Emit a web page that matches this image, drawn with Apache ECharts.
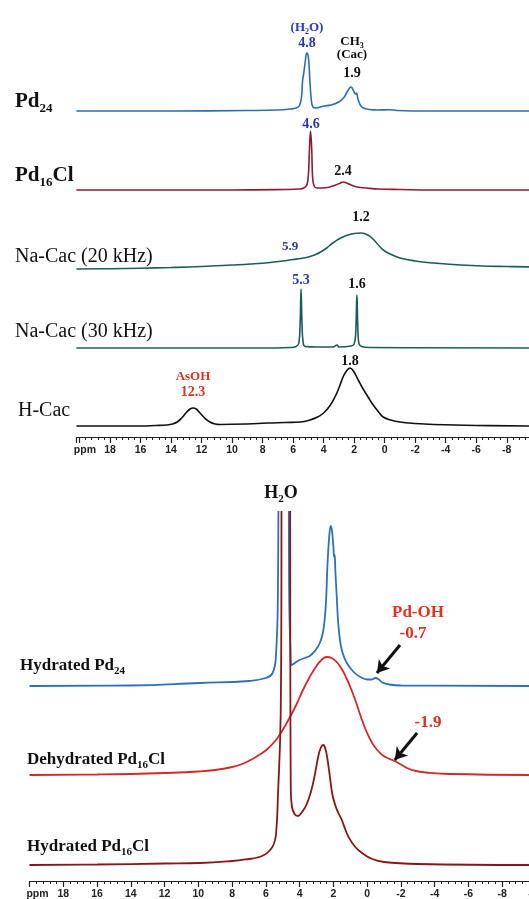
<!DOCTYPE html>
<html>
<head>
<meta charset="utf-8">
<script src="https://cdn.jsdelivr.net/npm/echarts@6/dist/echarts.min.js"></script>
<style>html,body{margin:0;padding:0;background:#fff}#main{width:529px;height:899px}</style>
</head>
<body>
<div id="main"></div>
<script>
// spectra: [ppm, height above own baseline]
// top panel
const pd24 = [[20.2,0],[14,0],[9,0.5],[7,1],[6.2,2],[5.8,3],[5.6,5],[5.45,14],[5.38,30],[5.3,38],[5.2,50],[5.1,58],[5.0,54],[4.9,30],[4.8,10],[4.7,4],[4.5,3],[4.0,5],[3.5,6],[3.0,9],[2.7,13],[2.5,18],[2.3,23],[2.2,24],[2.1,22],[2.0,19],[1.9,17],[1.85,18],[1.75,12],[1.6,6],[1.4,3],[1.0,1.5],[0.5,1],[-0.3,1.3],[-0.8,0.5],[-3,0],[-10,0]];
const pd16 = [[20.2,0],[10,0],[6.5,0.5],[5.6,1],[5.3,2],[5.1,5],[5.0,15],[4.93,40],[4.86,59],[4.78,40],[4.72,12],[4.62,4],[4.45,2],[4.1,2],[3.6,3],[3.2,5],[2.9,7],[2.73,8],[2.5,7],[2.2,5],[1.8,3],[1.2,2],[0.4,1],[-1,0.5],[-3,0],[-10,0]];
const naCac20 = [[20.2,0],[18,0.3],[16,0.8],[14,1.5],[12,2.5],[10,4],[8.8,5],[7.5,6.5],[6.7,8],[6.0,9.5],[5.5,10.5],[5.0,12],[4.6,14],[4.2,17],[3.8,21],[3.4,26],[3.0,30],[2.5,33.5],[2.0,35.5],[1.55,36],[1.1,34],[0.7,29],[0.3,22],[0,18],[-0.5,14],[-1,11],[-2,8],[-3.2,6],[-5,4],[-6.4,3],[-8,2.5],[-10,2]];
const naCac30 = [[20.2,0],[8,0],[6.2,0.5],[5.8,1.5],[5.62,5],[5.54,25],[5.48,59],[5.42,25],[5.34,5],[5.2,1.5],[4.5,1],[3.4,1],[3.1,3],[3.0,1],[2.2,2],[2.0,4],[1.9,15],[1.82,53],[1.75,15],[1.68,4],[1.5,1.5],[1,0.5],[-10,0]];
const hCac = [[20.2,0],[16,0],[15,0.5],[14.3,1],[13.9,2],[13.6,4],[13.3,8],[13.0,13.5],[12.75,17],[12.56,18],[12.35,17],[12.1,13],[11.8,8],[11.45,4],[11.1,2],[10.8,1.5],[9,2],[7.7,3],[6.5,3.5],[5.5,4],[5,5.5],[4.4,9],[4.0,13],[3.6,20],[3.26,29],[3.0,38],[2.7,50],[2.45,56],[2.27,58],[2.05,55],[1.8,48],[1.45,38],[1.09,29],[0.8,22],[0.4,14],[0.1,9],[-0.4,6],[-1,4],[-2,2.5],[-3.2,1.5],[-6,0.5],[-10,0]];
// bottom panel (water peaks run off scale)
const hydPd24 = [[20,0],[14,0.5],[9.9,3],[7,5],[6,8],[5.6,13],[5.4,30],[5.28,100],[5.2,400],[4.68,400],[4.62,100],[4.55,40],[4.45,21],[4.2,24],[4.0,26],[3.7,28],[3.4,30],[3.1,35],[2.8,43],[2.6,55],[2.45,80],[2.35,120],[2.25,148],[2.15,160],[2.08,155],[2.0,140],[1.95,129],[1.92,131],[1.88,115],[1.8,90],[1.72,65],[1.6,45],[1.45,33],[1.2,23],[0.8,14],[0.4,9],[0,6.5],[-0.25,6.5],[-0.5,8],[-0.7,6.5],[-0.9,3.5],[-1.3,1.5],[-2,0.5],[-10,0]];
const dehydPd16 = [[20,0],[16,0.5],[14,1],[12,2],[10,3.5],[9,5],[8,8],[7.4,11],[6.9,15],[6.4,20],[5.9,26],[5.4,35],[5,45],[4.6,57],[4.2,70],[3.8,85],[3.4,98],[3.0,109],[2.7,115],[2.4,118],[2.1,117],[1.8,113],[1.5,106],[1.2,96],[0.9,84],[0.6,70],[0.3,55],[0,42],[-0.3,32],[-0.6,25],[-0.9,20],[-1.2,17],[-1.5,15],[-1.8,12.5],[-2.1,9.5],[-2.5,6],[-2.9,4],[-3.5,2.5],[-4.9,1],[-10,0]];
const hydPd16 = [[20,0],[16,0.5],[12,1.5],[9.9,2],[8,4],[7,6],[6.5,7.5],[6.1,10],[5.8,14],[5.55,20],[5.4,30],[5.28,70],[5.12,150],[5.02,400],[4.6,400],[4.52,75],[4.45,58],[4.3,51],[4.1,49],[3.9,52],[3.6,60],[3.3,75],[3.1,90],[2.9,108],[2.75,117],[2.6,120],[2.47,116],[2.35,106],[2.2,88],[2.05,70],[1.85,58],[1.7,52],[1.5,45],[1.3,36],[1.1,28],[0.7,18],[0.3,12],[-0.3,6],[-1,3],[-3,1],[-10,0]];
// arrows [ppm, panel height]
const pdOhArrow = [[-1.95,236],[-0.58,208]];
const pd16OhArrow = [[-2.96,148],[-1.64,121]];

const SERIF = '"Liberation Serif","Times New Roman",serif';
const SANS = '"Liberation Sans",Arial,sans-serif';

const chart = echarts.init(document.getElementById('main'), null, { renderer: 'canvas' });

function ppmAxis(gridIndex, max, ppmPad) {
    return {
        type: 'value', gridIndex: gridIndex, inverse: true, min: -10, max: max, interval: 2,
        axisLine: { show: true, onZero: false, lineStyle: { color: '#222', width: 1.2 } },
        axisTick: { show: true, inside: false, length: 6, lineStyle: { color: '#222', width: 1.2 } },
        minorTick: { show: true, splitNumber: 5, length: 3, lineStyle: { color: '#222', width: 1 } },
        splitLine: { show: false },
        axisLabel: {
            margin: 8, color: '#222', fontSize: 10.5, fontWeight: 'bold', fontFamily: SANS,
            formatter: function (v) {
                if (v === 20) return '{p|ppm}';
                return v % 2 === 0 ? String(v) : '';
            },
            rich: { p: { padding: [0, 0, 0, ppmPad], color: '#222', fontSize: 10.5, fontWeight: 'bold', fontFamily: SANS } }
        }
    };
}

function trace(pts, offset, color, width, idx) {
    return {
        type: 'line', xAxisIndex: idx, yAxisIndex: idx,
        data: pts.map(p => [p[0], p[1] + offset]),
        showSymbol: false, symbol: 'none', smooth: 0.45,
        lineStyle: { color: color, width: width }, itemStyle: { color: color },
        silent: true, animation: false
    };
}

function arrow(a) {
    return {
        silent: true, animation: false, symbol: ['none', 'arrow'], symbolSize: [11, 12],
        lineStyle: { color: '#111', width: 3, type: 'solid' }, label: { show: false },
        data: [[{ coord: a[0] }, { coord: a[1] }]]
    };
}

function txt(x, y, text, size, color, align, weight) {
    return {
        type: 'text', x: x, y: y, silent: true,
        style: { text: text, fill: color, font: (weight || 'bold') + ' ' + size + 'px ' + SERIF, align: align || 'center', verticalAlign: 'middle' }
    };
}

// text with a subscript part, written as '{m|..}{s|..}'
function subTxt(x, y, text, size, color, bold, align) {
    const w = bold ? 'bold' : 'normal';
    return {
        type: 'text', x: x, y: y, silent: true,
        style: {
            text: text, fill: color, font: w + ' ' + size + 'px ' + SERIF,
            align: align || 'left', verticalAlign: 'middle',
            rich: {
                m: { fontFamily: SERIF, fontWeight: w, fontSize: size, lineHeight: Math.round(size * 1.25), fill: color, color: color },
                s: { fontFamily: SERIF, fontWeight: w, fontSize: Math.round(size * 0.62), lineHeight: Math.round(size * 0.62), verticalAlign: 'bottom', fill: color, color: color }
            }
        }
    };
}

const BLUE = '#2c6db4', MAROON = '#8e1b33', TEAL = '#1c5d57', RED = '#d62828', DKRED = '#8a1717';
const LBLUE = '#2b35b5', LRED = '#e0321e';

const pdOhSeries = trace(hydPd24, 195, '#2d72b8', 1.8, 1);
pdOhSeries.markLine = arrow(pdOhArrow);
const dehydSeries = trace(dehydPd16, 106, RED, 1.8, 1);
dehydSeries.markLine = arrow(pd16OhArrow);

const option = {
    backgroundColor: '#fff',
    animation: false,
    grid: [
        { left: 76.4, top: 0, width: 460.9, height: 437, containLabel: false, outerBoundsMode: 'none' },
        { left: 29.5, top: 512, width: 506.4, height: 369, containLabel: false, outerBoundsMode: 'none' }
    ],
    xAxis: [ppmAxis(0, 20.2, 11), ppmAxis(1, 20, 16)],
    yAxis: [
        { type: 'value', gridIndex: 0, min: 0, max: 437, show: false },
        { type: 'value', gridIndex: 1, min: 0, max: 369, show: false }
    ],
    series: [
        trace(pd24, 326, BLUE, 1.6, 0),
        trace(pd16, 247, MAROON, 1.6, 0),
        trace(naCac20, 168, TEAL, 1.6, 0),
        trace(naCac30, 89, TEAL, 1.6, 0),
        trace(hCac, 11, '#111', 1.6, 0),
        pdOhSeries,
        dehydSeries,
        trace(hydPd16, 16, DKRED, 1.8, 1)
    ],
    graphic: [
        // top panel row labels
        subTxt(15, 102, '{m|Pd}{s|24}', 21, '#111', true),
        subTxt(15, 176, '{m|Pd}{s|16}{m|Cl}', 21, '#111', true),
        txt(15, 257, 'Na-Cac (20 kHz)', 20, '#111', 'left', 'normal'),
        txt(15, 332, 'Na-Cac (30 kHz)', 20, '#111', 'left', 'normal'),
        txt(18, 411, 'H-Cac', 20, '#111', 'left', 'normal'),
        // top panel peak labels
        subTxt(307, 28, '{m|(H}{s|2}{m|O)}', 13, LBLUE, true, 'center'),
        txt(307, 43, '4.8', 14, LBLUE),
        subTxt(352, 42, '{m|CH}{s|3}', 13, '#111', true, 'center'),
        txt(352, 55, '(Cac)', 13, '#111'),
        txt(352, 73, '1.9', 14, '#111'),
        txt(311, 124, '4.6', 14, LBLUE),
        txt(343, 171, '2.4', 14, '#111'),
        txt(361, 217, '1.2', 14, '#111'),
        txt(290, 247, '5.9', 13, LBLUE),
        txt(301, 280, '5.3', 14, LBLUE),
        txt(357, 284, '1.6', 14, '#111'),
        txt(350, 361, '1.8', 14, '#111'),
        txt(193, 377, 'AsOH', 13, LRED),
        txt(193, 392, '12.3', 14, LRED),
        // bottom panel
        subTxt(281, 493, '{m|H}{s|2}{m|O}', 18, '#111', true, 'center'),
        txt(418, 613, 'Pd-OH', 17, LRED),
        txt(413, 634, '-0.7', 17, LRED),
        txt(428, 723, '-1.9', 17, LRED),
        subTxt(20, 666, '{m|Hydrated Pd}{s|24}', 17, '#111', true),
        subTxt(27, 760, '{m|Dehydrated Pd}{s|16}{m|Cl}', 17, '#111', true),
        subTxt(27, 847, '{m|Hydrated Pd}{s|16}{m|Cl}', 17, '#111', true)
    ]
};

chart.setOption(option);
</script>
</body>
</html>
